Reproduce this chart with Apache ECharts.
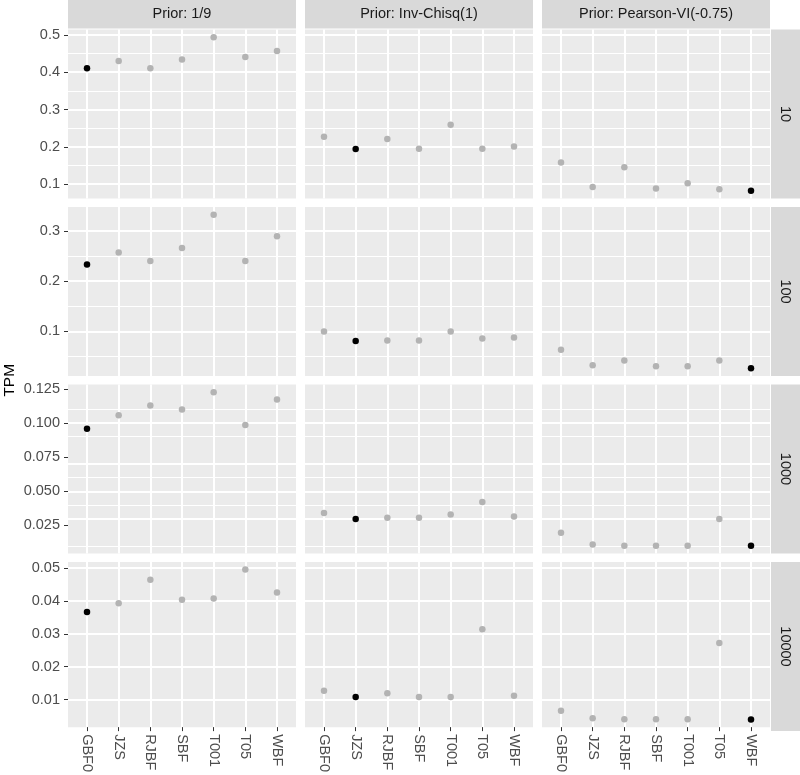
<!DOCTYPE html>
<html>
<head>
<meta charset="UTF-8">
<title>TPM</title>
<style>
  html, body { margin: 0; padding: 0; background: #fff; }
  #chart { width: 800px; height: 775px; }
</style>
<script src="https://cdn.jsdelivr.net/npm/echarts@6/dist/echarts.min.js"></script>
</head>
<body>
<div id="chart"></div>
<script>
// categories
var methods = ['GBF0', 'JZS', 'RJBF', 'SBF', 'T001', 'T05', 'WBF'];
var priors = ['Prior: 1/9', 'Prior: Inv-Chisq(1)', 'Prior: Pearson-VI(-0.75)'];
var sizes = ['10', '100', '1000', '10000'];
// method drawn in black for each prior
var highlight = ['GBF0', 'JZS', 'WBF'];

// TPM values, one row per sample size (10, 100, 1000, 10000)
var tpmPrior19 = [
  [0.411, 0.430, 0.411, 0.434, 0.494, 0.441, 0.457],
  [0.233, 0.257, 0.240, 0.266, 0.332, 0.240, 0.289],
  [0.0959, 0.1057, 0.1128, 0.1100, 0.1226, 0.0985, 0.1172],
  [0.0367, 0.0393, 0.0465, 0.0404, 0.0408, 0.0496, 0.0426]
];
var tpmInvChisq = [
  [0.227, 0.194, 0.221, 0.195, 0.259, 0.195, 0.201],
  [0.100, 0.0808, 0.0822, 0.0822, 0.100, 0.0861, 0.0881],
  [0.0341, 0.0297, 0.0307, 0.0307, 0.0331, 0.0422, 0.0316],
  [0.0127, 0.0108, 0.0119, 0.0108, 0.0108, 0.0314, 0.0112]
];
var tpmPearson = [
  [0.158, 0.092, 0.145, 0.088, 0.102, 0.086, 0.082],
  [0.0638, 0.0327, 0.0420, 0.0307, 0.0307, 0.0420, 0.0267],
  [0.0196, 0.0110, 0.0101, 0.0101, 0.0101, 0.0297, 0.0101],
  [0.0066, 0.0043, 0.0040, 0.0040, 0.0040, 0.0272, 0.0039]
];

// y tick labels per row
var majorTicks = [
  [0.1, 0.2, 0.3, 0.4, 0.5],
  [0.1, 0.2, 0.3],
  [0.025, 0.05, 0.075, 0.1, 0.125],
  [0.01, 0.02, 0.03, 0.04, 0.05]
];
var minorTicks = [
  [0.15, 0.25, 0.35, 0.45],
  [0.05, 0.15, 0.25],
  [0.0125, 0.0375, 0.0625, 0.0875, 0.1125],
  [0.005, 0.015, 0.025, 0.035, 0.045]
];
var tickDigits = [1, 1, 3, 2];

var allData = [tpmPrior19, tpmInvChisq, tpmPearson];

// layout (px)
var colLeft = [68, 305, 542];
var panelW = 228;
var rowTop = [29.5, 207, 384.5, 562];
var panelH = 169;
var stripH = 28.5;

var chart = echarts.init(document.getElementById('chart'));

var grids = [], xAxes = [], yAxes = [], series = [];
var labelColor = '#4D4D4D';
var font = '"Liberation Sans", Arial, sans-serif';
var fs = 14.5;
var xPos = methods.map(function (m, i) { return i + 1; });
var hidden = { axisLine: { show: false }, axisTick: { show: false }, axisLabel: { show: false }, splitLine: { show: false } };

for (var r = 0; r < sizes.length; r++) {
  // free y scale per row, 5% expansion like ggplot
  var rowVals = [];
  for (var c = 0; c < priors.length; c++) rowVals = rowVals.concat(allData[c][r]);
  var lo = Math.min.apply(null, rowVals), hi = Math.max.apply(null, rowVals);
  var pad = (hi - lo) * 0.05;

  // horizontal grid lines
  var gridLines = minorTicks[r].map(function (v) {
    return { yAxis: v, lineStyle: { width: 1.2 } };
  }).concat(majorTicks[r].map(function (v) {
    return { yAxis: v, lineStyle: { width: 2 } };
  }));

  for (var c = 0; c < priors.length; c++) {
    var gi = grids.length;
    grids.push({
      left: colLeft[c], top: rowTop[r], width: panelW, height: panelH,
      show: true, backgroundColor: '#EBEBEB', borderWidth: 0
    });
    var bottomRow = r === sizes.length - 1;
    xAxes.push({
      type: 'value', gridIndex: gi, min: 0.4, max: 7.6,
      axisLine: { show: false },
      axisTick: { show: bottomRow, customValues: xPos, length: 4, lineStyle: { color: '#333333', width: 1 } },
      axisLabel: {
        show: bottomRow, customValues: xPos, rotate: -90, margin: 7,
        color: labelColor, fontSize: fs, fontFamily: font,
        formatter: function (v) { return methods[Math.round(v) - 1]; }
      },
      splitLine: { show: true, lineStyle: { color: '#FFFFFF', width: 2 } }
    });
    var digits = tickDigits[r];
    yAxes.push({
      type: 'value', gridIndex: gi, min: lo - pad, max: hi + pad,
      axisLine: { show: false },
      splitLine: { show: false },
      axisTick: { show: c === 0, length: 4, customValues: majorTicks[r], lineStyle: { color: '#333333', width: 1 } },
      axisLabel: {
        show: c === 0, customValues: majorTicks[r], margin: 8,
        color: labelColor, fontSize: fs, fontFamily: font,
        formatter: (function (d) { return function (v) { return v.toFixed(d); }; })(digits)
      }
    });
    var vals = allData[c][r];
    series.push({
      type: 'scatter', xAxisIndex: gi, yAxisIndex: gi,
      symbolSize: 6.5, z: 6,
      data: vals.map(function (v, i) {
        return {
          value: [i + 1, v],
          itemStyle: { color: methods[i] === highlight[c] ? '#000000' : '#B3B3B3', opacity: 1 }
        };
      }),
      markLine: {
        symbol: ['none', 'none'],
        label: { show: false },
        lineStyle: { color: '#FFFFFF', type: 'solid', width: 2 },
        data: gridLines
      }
    });
  }
}

// top strips (prior names)
for (var c = 0; c < priors.length; c++) {
  var gi = grids.length;
  grids.push({
    left: colLeft[c], top: 0, width: panelW, height: stripH,
    show: true, backgroundColor: '#D9D9D9', borderWidth: 0
  });
  xAxes.push(Object.assign({
    type: 'value', gridIndex: gi, position: 'bottom',
    name: priors[c], nameLocation: 'middle', nameGap: -stripH / 2,
    nameTextStyle: { color: '#1A1A1A', fontSize: fs, fontFamily: font, align: 'center', verticalAlign: 'middle' }
  }, hidden));
  yAxes.push({ type: 'value', gridIndex: gi, show: false });
}

// right strips (sample sizes)
for (var r = 0; r < sizes.length; r++) {
  var gi = grids.length;
  grids.push({
    left: 771, top: rowTop[r], width: 29, height: panelH,
    show: true, backgroundColor: '#D9D9D9', borderWidth: 0
  });
  xAxes.push({ type: 'value', gridIndex: gi, show: false });
  yAxes.push(Object.assign({
    type: 'value', gridIndex: gi, position: 'left',
    name: sizes[r], nameLocation: 'middle', nameRotate: -90, nameGap: -13.5,
    nameTextStyle: { color: '#1A1A1A', fontSize: fs, fontFamily: font, align: 'center', verticalAlign: 'middle' }
  }, hidden));
}

// y axis title spanning all rows
var gt = grids.length;
grids.push({ left: 20, top: rowTop[0], width: 10, height: rowTop[3] + panelH - rowTop[0], show: false });
xAxes.push({ type: 'value', gridIndex: gt, show: false });
yAxes.push(Object.assign({
  type: 'value', gridIndex: gt, position: 'left',
  name: 'TPM', nameLocation: 'middle', nameRotate: 90, nameGap: 10,
  nameTextStyle: { color: '#000000', fontSize: 15.5, fontFamily: font, align: 'center', verticalAlign: 'middle' }
}, hidden));

chart.setOption({
  animation: false,
  backgroundColor: '#FFFFFF',
  grid: grids,
  xAxis: xAxes,
  yAxis: yAxes,
  series: series
});
</script>
</body>
</html>
